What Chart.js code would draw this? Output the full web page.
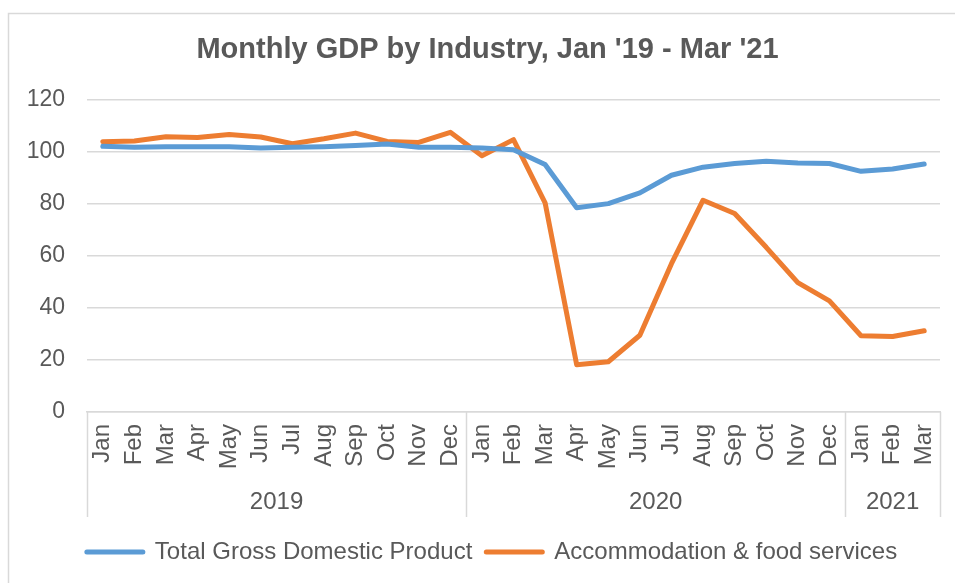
<!DOCTYPE html>
<html>
<head>
<meta charset="utf-8">
<script src="https://cdn.jsdelivr.net/npm/chart.js@4/dist/chart.umd.min.js"></script>
<style>
  html, body { margin: 0; padding: 0; background: #ffffff; }
  #wrap { position: relative; width: 955px; height: 583px; }
</style>
</head>
<body>
<div id="wrap"><canvas id="c" width="955" height="583"></canvas></div>
<script>
// ---- data ----
const months = ['Jan','Feb','Mar','Apr','May','Jun','Jul','Aug','Sep','Oct','Nov','Dec',
                'Jan','Feb','Mar','Apr','May','Jun','Jul','Aug','Sep','Oct','Nov','Dec',
                'Jan','Feb','Mar'];
const years = ['2019', '2020', '2021'];
const monthsPerYear = [12, 12, 3];
const gdpTotal = [102.1, 101.8, 102.0, 102.0, 102.0, 101.5, 101.8, 102.0, 102.4, 103.0, 101.8, 101.8,
                  101.5, 100.8, 95.1, 78.5, 80.1, 84.2, 91.0, 94.1, 95.5, 96.4, 95.7, 95.5,
                  92.5, 93.4, 95.3];
const accommodation = [103.9, 104.2, 105.8, 105.5, 106.7, 105.7, 103.1, 105.0, 107.2, 104.0, 103.6, 107.5,
                       98.5, 104.7, 80.4, 18.2, 19.3, 29.5, 57.0, 81.4, 76.3, 63.3, 49.7, 42.7,
                       29.3, 29.0, 31.2];
const yTicks = [0, 20, 40, 60, 80, 100, 120];
const seriesNames = ['Total Gross Domestic Product', 'Accommodation & food services'];

// derived year groups
const yearStarts = [];
{ let s = 0; monthsPerYear.forEach(n => { yearStarts.push(s); s += n; }); }
const yearCenters = yearStarts.map((s, i) => s + (monthsPerYear[i] - 1) / 2);

const FONT = 'Liberation Sans, Arial, sans-serif';
const TXT = '#595959';
const GRID = '#d9d9d9';

const decorPlugin = {
  id: 'decor',
  afterLayout(chart) {
    // centre title and legend like the original (offset to the right of the canvas centre)
    if (chart.titleBlock) chart.titleBlock.left = 35;
    if (chart.legend) chart.legend.left = 44;
  },
  beforeDraw(chart) {
    const ctx = chart.ctx;
    ctx.save();
    ctx.fillStyle = '#ffffff';
    ctx.fillRect(0, 0, chart.width, chart.height);
    ctx.strokeStyle = GRID;
    ctx.lineWidth = 1.5;
    ctx.strokeRect(8.5, 13.5, 1200, 1200);
    ctx.restore();
  },
  afterDraw(chart) {
    const ctx = chart.ctx;
    const x2 = chart.scales.x2;
    const top = chart.chartArea.bottom;
    const bottom = 517;
    const bounds = [];
    yearStarts.forEach(s => bounds.push(s - 0.5));
    bounds.push(months.length - 0.5);
    ctx.save();
    ctx.strokeStyle = GRID;
    ctx.lineWidth = 1.5;
    bounds.forEach(b => {
      const px = Math.round(x2.getPixelForValue(b)) + 0.5;
      ctx.beginPath();
      ctx.moveTo(px, top);
      ctx.lineTo(px, bottom);
      ctx.stroke();
    });
    ctx.restore();
  }
};

function noSidePadding(axis) {
  axis.paddingLeft = 0;
  axis.paddingRight = 0;
}

new Chart(document.getElementById('c'), {
  type: 'line',
  data: {
    labels: months,
    datasets: [
      {
        label: seriesNames[0],
        data: gdpTotal,
        borderColor: '#5B9BD5',
        backgroundColor: '#5B9BD5',
        borderWidth: 5,
        pointRadius: 0,
        tension: 0,
        borderJoinStyle: 'round',
        borderCapStyle: 'round',
        pointStyle: 'line'
      },
      {
        label: seriesNames[1],
        data: accommodation,
        borderColor: '#ED7D31',
        backgroundColor: '#ED7D31',
        borderWidth: 5,
        pointRadius: 0,
        tension: 0,
        borderJoinStyle: 'round',
        borderCapStyle: 'round',
        pointStyle: 'line'
      }
    ]
  },
  options: {
    responsive: false,
    animation: false,
    layout: { padding: { left: 0, right: 15, top: 0, bottom: 9 } },
    plugins: {
      title: {
        display: true,
        text: "Monthly GDP by Industry, Jan '19 - Mar '21",
        color: TXT,
        font: { family: FONT, size: 29, weight: 'bold' },
        padding: { top: 33, bottom: 32 }
      },
      legend: {
        display: true,
        position: 'bottom',
        align: 'center',
        labels: {
          color: TXT,
          font: { family: FONT, size: 24 },
          usePointStyle: true,
          pointStyleWidth: 56,
          padding: 14,
          generateLabels(chart) {
            return chart.data.datasets.map((ds, i) => ({
              text: ds.label,
              fillStyle: ds.borderColor,
              strokeStyle: ds.borderColor,
              lineWidth: 5,
              lineCap: 'round',
              pointStyle: 'line',
              fontColor: TXT,
              hidden: false,
              datasetIndex: i
            }));
          }
        }
      },
      tooltip: { enabled: false }
    },
    scales: {
      y: {
        min: 0,
        max: 120,
        afterBuildTicks(axis) { axis.ticks = yTicks.map(v => ({ value: v })); },
        afterFit(axis) { axis.width = 87; },
        grid: { color: GRID, lineWidth: 1.5, drawTicks: false },
        border: { display: false },
        ticks: { color: TXT, font: { family: FONT, size: 23 }, padding: 22 }
      },
      x: {
        type: 'category',
        offset: true,
        afterFit(axis) { axis.height = 72; noSidePadding(axis); },
        grid: { display: false, drawTicks: false },
        border: { display: true, color: GRID, width: 1.5 },
        ticks: {
          color: TXT,
          font: { family: FONT, size: 24 },
          minRotation: 90,
          maxRotation: 90,
          autoSkip: false,
          padding: 12
        }
      },
      x2: {
        type: 'linear',
        position: 'bottom',
        min: -0.5,
        max: months.length - 0.5,
        afterBuildTicks(axis) { axis.ticks = yearCenters.map(v => ({ value: v })); },
        afterFit(axis) { axis.height = 42; noSidePadding(axis); },
        grid: { display: false, drawTicks: false },
        border: { display: false },
        ticks: {
          color: TXT,
          font: { family: FONT, size: 24 },
          autoSkip: false,
          minRotation: 0,
          maxRotation: 0,
          padding: 4,
          callback(value) {
            const i = yearCenters.indexOf(value);
            return i >= 0 ? years[i] : '';
          }
        }
      }
    }
  },
  plugins: [decorPlugin]
});
</script>
</body>
</html>
